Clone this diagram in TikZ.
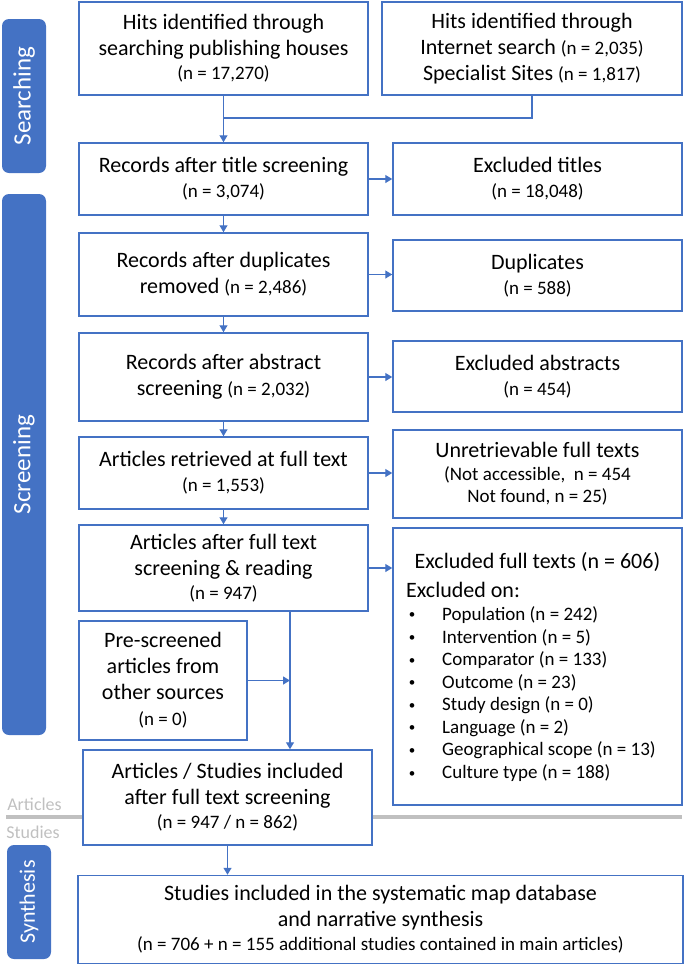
\documentclass[tikz,border=0pt]{standalone}
\usepackage{fontspec}
\setmainfont{Carlito}
\usetikzlibrary{arrows.meta}
\definecolor{bl}{HTML}{4472C4}
\definecolor{gr}{HTML}{C0C0C0}
\newcommand\nsz[1]{{\fontsize{19}{23}\selectfont #1}}
\tikzset{
 box/.style={draw=bl, line width=1.5pt, fill=white, align=center, inner sep=0pt, font=\fontsize{22}{26}\selectfont},
 side/.style={fill=bl, rounded corners=7pt, inner sep=0pt, rotate=90, text=white, minimum height=44pt, font=\fontsize{25}{30}\selectfont},
 arr/.style={draw=bl, line width=1.4pt, -{Triangle[length=7pt,width=8pt]}},
 ln/.style={draw=bl, line width=1.4pt},
 graytext/.style={text=gr, font=\fontsize{18}{22}\selectfont, inner sep=0pt},
 listtext/.style={anchor=west, inner sep=0pt, font=\fontsize{19}{23}\selectfont},
 bullettext/.style={inner sep=0pt, font=\fontsize{13}{16}\selectfont},
}
\begin{document}
\begin{tikzpicture}[x=1pt,y=-1pt]
\useasboundingbox (0,0) rectangle (685,964);
% separator line
\draw[gr, line width=4pt] (6,817) -- (682,817);
\node[graytext] (artlab) at (34.5,804) {Articles};
\node[graytext] (studlab) at (33,832) {Studies};
% side labels
\node[side, minimum width=154pt] (searching) at (24,96) {Searching};
\node[side, minimum width=541pt] (screening) at (24,464.5) {Screening};
\node[side, minimum width=114pt, font=\fontsize{22}{26}\selectfont] (synthesis) at (29,902) {Synthesis};
% boxes
\node[box, minimum width=289pt, minimum height=93pt] (pub) at (223.5,48.5) {Hits identified through\\searching publishing houses\\[-2pt]\nsz{(n = 17,270)}};
\node[box, minimum width=300pt, minimum height=93pt] (inet) at (532,48.5) {Hits identified through\\Internet search \nsz{(n = 2,035)}\\Specialist Sites \nsz{(n = 1,817)}};
\node[box, minimum width=289pt, minimum height=72pt] (title) at (223.5,179) {Records after title screening\\[-1pt]\nsz{(n = 3,074)}};
\node[box, minimum width=289pt, minimum height=72pt] (extitle) at (537.5,179) {Excluded titles\\[-1pt]\nsz{(n = 18,048)}};
\node[box, minimum width=289pt, minimum height=83pt] (dup) at (223.5,274.5) {Records after duplicates\\removed \nsz{(n = 2,486)}};
\node[box, minimum width=289pt, minimum height=71pt] (exdup) at (537.5,275.5) {Duplicates\\[-1pt]\nsz{(n = 588)}};
\node[box, minimum width=289pt, minimum height=88pt] (abs) at (223.5,377) {Records after abstract\\screening \nsz{(n = 2,032)}};
\node[box, minimum width=289pt, minimum height=71pt] (exabs) at (537.5,376.5) {Excluded abstracts\\[-1pt]\nsz{(n = 454)}};
\node[box, minimum width=289pt, minimum height=72pt] (ret) at (223.5,473) {Articles retrieved at full text\\[-1pt]\nsz{(n = 1,553)}};
\node[box, minimum width=289pt, minimum height=88pt] (unret) at (537.5,474) {Unretrievable full texts\\[-3pt]\nsz{(Not accessible,~ n = 454}\\[-4pt]\nsz{Not found, n = 25)}};
\node[box, minimum width=289pt, minimum height=86pt] (aft) at (223.5,568) {Articles after full text\\screening \& reading\\[-2pt]\nsz{(n = 947)}};
\node[box, minimum width=289pt, minimum height=277pt] (exfull) at (537.5,666.5) {};
\node[inner sep=0pt, font=\fontsize{22}{26}\selectfont] (exfulltitle) at (537.5,562) {Excluded full texts (n = 606)};
\node[inner sep=0pt, anchor=west, font=\fontsize{22}{26}\selectfont] (exon) at (406,590) {Excluded on:};
\foreach \t [count=\i from 0] in {Population (n = 242),Intervention (n = 5),Comparator (n = 133),Outcome (n = 23),Study design (n = 0),Language (n = 2),Geographical scope (n = 13),Culture type (n = 188)}{
  \node[bullettext] (bul\i) at (412,616+22.6*\i) {\textbullet};
  \node[listtext] (item\i) at (442,615+22.6*\i) {\t};
}
\node[box, minimum width=168pt, minimum height=119pt] (pre) at (163,680.5) {Pre-screened\\articles from\\other sources\\\nsz{(n = 0)}};
\node[box, minimum width=289pt, minimum height=95pt] (incl) at (227.5,797.5) {Articles / Studies included\\after full text screening\\[-2pt]\nsz{(n = 947 / n = 862)}};
\node[box, minimum width=605pt, minimum height=88pt] (final) at (380.5,919.5) {Studies included in the systematic map database\\and narrative synthesis\\[-2pt]\nsz{(n = 706 + n = 155 additional studies contained in main articles)}};
% connectors
\coordinate (j1) at (223.5,118);
\coordinate (vx) at (290,0);
\draw[ln] (pub.south) -- (j1);
\draw[ln] (inet.south) |- (j1);
\draw[arr] (j1) -- (title.north);
\draw[arr] (title.south) -- (dup.north);
\draw[arr] (dup.south) -- (abs.north);
\draw[arr] (abs.south) -- (ret.north);
\draw[arr] (ret.south) -- (aft.north);
\draw[arr] (title.east) -- (title.east -| extitle.west);
\draw[arr] (dup.east) -- (dup.east -| exdup.west);
\draw[arr] (abs.east) -- (abs.east -| exabs.west);
\draw[arr] (ret.east) -- (ret.east -| unret.west);
\draw[arr] (aft.east) -- (aft.east -| exfull.west);
\draw[arr] (aft.south -| vx) -- (incl.north -| vx);
\draw[arr] (pre.east) -- (pre.east -| vx);
\draw[arr] (incl.south) -- (incl.south |- final.north);
\end{tikzpicture}
\end{document}
